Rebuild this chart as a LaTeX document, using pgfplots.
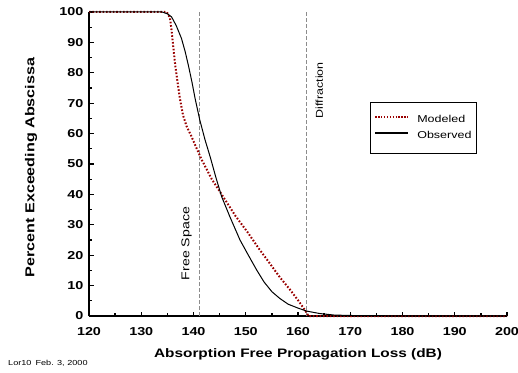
\documentclass[border=0pt]{standalone}
\usepackage{fontspec}
\usepackage{pgfplots}
\pgfplotsset{compat=1.18}
\newfontfamily\wsans{Liberation Sans}[FakeStretch=1.25]
\definecolor{modred}{RGB}{153,0,0}
\definecolor{vgray}{RGB}{140,140,140}
\begin{document}
\begin{tikzpicture}
\useasboundingbox (0pt,0pt) rectangle (518pt,372pt);
\begin{axis}[
  at={(89pt,56pt)}, anchor=south west,
  scale only axis, width=418pt, height=304pt,
  xmin=120, xmax=200, ymin=0, ymax=100,
  axis x line*=bottom, axis y line*=left,
  axis line style={-, line width=1.6pt},
  clip=false,
  xtick={120,130,...,200}, ytick={0,10,...,100},
  minor xtick={125,135,...,195}, minor ytick={5,15,...,95},
  xtick align=inside, ytick align=inside,
  major tick length=4.5pt, minor tick length=3pt,
  tick style={black, line width=1.3pt},
  /pgf/number format/assume math mode=true,
  xticklabel style={font=\wsans\bfseries\fontsize{11.5}{13}\selectfont, yshift=-8pt},
  yticklabel style={font=\wsans\bfseries\fontsize{11.5}{13}\selectfont, xshift=-2pt},
  xlabel={Absorption Free Propagation Loss (dB)},
  ylabel={Percent Exceeding Abscissa},
  xlabel style={font=\wsans\bfseries\fontsize{12.3}{14}\selectfont, at={(axis description cs:0.5,-0.125)}, anchor=center},
  ylabel style={font=\wsans\bfseries\fontsize{12.9}{14}\selectfont, at={(axis description cs:-0.1388,0.4885)}, anchor=center},
  legend cell align=left,
  legend style={at={(0.672,0.704)}, anchor=north west, draw=black, line width=0.8pt,
    inner xsep=4pt, inner ysep=12pt, row sep=4.5pt,
    nodes={inner sep=1pt, text height=7.5pt, text depth=2pt, font=\wsans\fontsize{10}{12}\selectfont}},
]
\addplot[vgray, line width=1.2pt, dash pattern=on 4pt off 2pt, forget plot] coordinates {(141.2,0) (141.2,100)};
\addplot[vgray, line width=1.2pt, dash pattern=on 4pt off 2pt, forget plot] coordinates {(161.7,0) (161.7,100)};
\addplot[modred, line width=2pt, dash pattern=on 1.6pt off 1.8pt,
  legend image code/.code={\draw[draw=modred, line width=1.7pt, dash pattern=on 1.4pt off 1.5pt] (0pt,2.8pt) -- (33pt,2.8pt); \path[draw=none] (0pt,0pt) -- (41pt,0pt);}] coordinates {
(120,100) (134.9,100) (135.5,98) (135.8,94) (136.1,89) (136.5,82.5) (136.9,77.5) (137.4,71.5) (138,66) (138.7,62.3) (139.5,59.5) (140.5,55.5) (141.6,51.3) (143.5,45) (145.5,39.7) (148,33) (150.5,27.2) (152.5,22.2) (154.6,17.3) (156.5,12.8) (158.5,8.6) (160,5.2) (161.3,2) (162,0) (200,0)};
\addlegendentry{Modeled}
\addplot[black, line width=1pt,
  legend image code/.code={\draw[draw=black, line width=2pt] (0pt,2.8pt) -- (33pt,2.8pt); \path[draw=none] (0pt,0pt) -- (41pt,0pt);}] coordinates {
(120,100) (134,100) (135,99.4) (135.8,98.4) (136.7,95.5) (137.7,91.3) (138.4,87) (139,82.6) (139.7,77) (140.3,71.6) (141.2,64.5) (142.2,58) (143.2,52.3) (144.3,45.5) (145.4,39.2) (147,32.5) (148.9,25) (150.5,20) (152.1,15.1) (153.5,11.2) (155,8) (156.5,5.8) (158.1,3.9) (160,2.6) (161.7,1.6) (164.2,0.8) (167,0.3) (172,0.1) (200,0)};
\addlegendentry{Observed}
\node[rotate=90, font=\wsans\fontsize{11.3}{13}\selectfont] at (axis cs:138.66,23.85) {Free Space};
\node[rotate=90, font=\wsans\fontsize{9.95}{12}\selectfont] at (axis cs:164.1,74.3) {Diffraction};
\end{axis}
\node[anchor=base west, inner sep=0pt, font=\wsans\fontsize{7.3}{9}\selectfont] at (8pt,7pt) {Lor10\hspace{4pt}Feb. 3, 2000};
\end{tikzpicture}
\end{document}
